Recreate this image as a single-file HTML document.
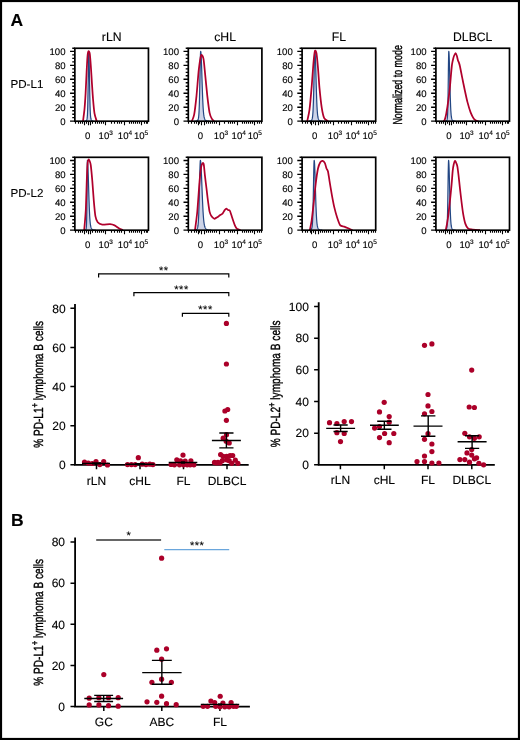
<!DOCTYPE html>
<html><head><meta charset="utf-8"><style>
html,body{margin:0;padding:0;background:#fff;}
body{width:520px;height:740px;overflow:hidden;position:relative;}
svg{position:absolute;left:0;top:0;will-change:transform;}
svg text{font-family:"Liberation Sans", sans-serif;text-rendering:geometricPrecision;stroke:#000;stroke-width:0.12px;}
</style></head><body>
<svg width="520" height="740" viewBox="0 0 520 740">
<rect x="1" y="1" width="518" height="738" fill="#fff" stroke="#000" stroke-width="2.2"/>
<path d="M84.9,121.19 L85,121.19 L85.09,121.18 L85.19,121.18 L85.29,121.17 L85.39,121.16 L85.48,121.14 L85.58,121.12 L85.68,121.1 L85.78,121.07 L85.88,121.03 L85.97,120.98 L86.07,120.92 L86.17,120.84 L86.26,120.75 L86.36,120.64 L86.46,120.5 L86.56,120.34 L86.66,120.14 L86.75,119.9 L86.85,119.6 L86.95,119.23 L87.04,118.75 L87.14,118.13 L87.24,117.31 L87.34,116.21 L87.44,114.74 L87.53,112.79 L87.63,110.23 L87.73,106.97 L87.82,102.89 L87.92,97.98 L88.02,92.25 L88.12,85.86 L88.22,79.03 L88.31,72.12 L88.41,65.55 L88.51,59.78 L88.6,55.27 L88.7,52.39 L88.8,51.4 L88.92,52.39 L89.03,55.27 L89.15,59.78 L89.27,65.55 L89.39,72.12 L89.5,79.03 L89.62,85.86 L89.74,92.25 L89.86,97.98 L89.97,102.89 L90.09,106.97 L90.21,110.23 L90.33,112.79 L90.44,114.74 L90.56,116.21 L90.68,117.31 L90.8,118.13 L90.91,118.75 L91.03,119.23 L91.15,119.6 L91.27,119.9 L91.39,120.14 L91.5,120.34 L91.62,120.5 L91.74,120.64 L91.86,120.75 L91.97,120.84 L92.09,120.92 L92.21,120.98 L92.33,121.03 L92.44,121.07 L92.56,121.1 L92.68,121.12 L92.8,121.14 L92.91,121.16 L93.03,121.17 L93.15,121.18 L93.27,121.18 L93.38,121.19 L93.5,121.19 Z" fill="#cdd4e8" stroke="none"/>
<path d="M84.9,121.19 L85,121.19 L85.09,121.18 L85.19,121.18 L85.29,121.17 L85.39,121.16 L85.48,121.14 L85.58,121.12 L85.68,121.1 L85.78,121.07 L85.88,121.03 L85.97,120.98 L86.07,120.92 L86.17,120.84 L86.26,120.75 L86.36,120.64 L86.46,120.5 L86.56,120.34 L86.66,120.14 L86.75,119.9 L86.85,119.6 L86.95,119.23 L87.04,118.75 L87.14,118.13 L87.24,117.31 L87.34,116.21 L87.44,114.74 L87.53,112.79 L87.63,110.23 L87.73,106.97 L87.82,102.89 L87.92,97.98 L88.02,92.25 L88.12,85.86 L88.22,79.03 L88.31,72.12 L88.41,65.55 L88.51,59.78 L88.6,55.27 L88.7,52.39 L88.8,51.4 L88.92,52.39 L89.03,55.27 L89.15,59.78 L89.27,65.55 L89.39,72.12 L89.5,79.03 L89.62,85.86 L89.74,92.25 L89.86,97.98 L89.97,102.89 L90.09,106.97 L90.21,110.23 L90.33,112.79 L90.44,114.74 L90.56,116.21 L90.68,117.31 L90.8,118.13 L90.91,118.75 L91.03,119.23 L91.15,119.6 L91.27,119.9 L91.39,120.14 L91.5,120.34 L91.62,120.5 L91.74,120.64 L91.86,120.75 L91.97,120.84 L92.09,120.92 L92.21,120.98 L92.33,121.03 L92.44,121.07 L92.56,121.1 L92.68,121.12 L92.8,121.14 L92.91,121.16 L93.03,121.17 L93.15,121.18 L93.27,121.18 L93.38,121.19 L93.5,121.19" fill="none" stroke="#224683" stroke-width="1.2" stroke-linejoin="round"/>
<path d="M83,121.2 C83.17,119.8 84.2,112.44 84.5,109.2 C84.8,105.96 85.35,97.71 85.6,93.4 C85.84,89.09 86.38,76.61 86.6,72.3 C86.82,67.99 87.29,58.95 87.5,56.5 C87.71,54.05 88.13,51.6 88.4,51.3 C88.67,51 89.51,52.06 89.8,53.9 C90.09,55.74 90.66,63.72 90.9,67.1 C91.15,70.48 91.66,79.21 91.9,82.9 C92.15,86.59 92.7,95.14 93,98.7 C93.3,102.26 94.07,110.78 94.5,113.4 C94.93,116.03 96.44,120.29 96.7,121.2" fill="none" stroke="#b0002c" stroke-width="1.75" stroke-linejoin="round"/>
<rect x="74.85" y="48.25" width="73.6" height="72.95" fill="none" stroke="#000" stroke-width="1.7"/>
<path d="M72.25,48.25H74.85M70.05,121.15H74.85M72.25,117.66H74.85M72.25,114.18H74.85M72.25,110.69H74.85M70.05,107.2H74.85M72.25,103.71H74.85M72.25,100.23H74.85M72.25,96.74H74.85M70.05,93.25H74.85M72.25,89.76H74.85M72.25,86.28H74.85M72.25,82.79H74.85M70.05,79.3H74.85M72.25,75.81H74.85M72.25,72.33H74.85M72.25,68.84H74.85M70.05,65.35H74.85M72.25,61.86H74.85M72.25,58.38H74.85M72.25,54.89H74.85M70.05,51.4H74.85" stroke="#000" stroke-width="1.4" fill="none"/>
<text x="65.55" y="124.55" font-size="9.6" text-anchor="end" font-weight="normal" fill="#000">0</text>
<text x="65.55" y="110.6" font-size="9.6" text-anchor="end" font-weight="normal" fill="#000">20</text>
<text x="65.55" y="96.65" font-size="9.6" text-anchor="end" font-weight="normal" fill="#000">40</text>
<text x="65.55" y="82.7" font-size="9.6" text-anchor="end" font-weight="normal" fill="#000">60</text>
<text x="65.55" y="68.75" font-size="9.6" text-anchor="end" font-weight="normal" fill="#000">80</text>
<text x="65.55" y="54.8" font-size="9.6" text-anchor="end" font-weight="normal" fill="#000">100</text>
<path d="M75.5,121.2V123.8M78.5,121.2V123.8M80.5,121.2V123.8M82.5,121.2V123.8M86.5,121.2V123.8M92.5,121.2V123.8M95.5,121.2V123.8M97.5,121.2V123.8M99.5,121.2V123.8M101.5,121.2V123.8M103.5,121.2V123.8M111.5,121.2V123.8M114.5,121.2V123.8M117.5,121.2V123.8M119.5,121.2V123.8M121.5,121.2V123.8M129.5,121.2V123.8M131.5,121.2V123.8M133.5,121.2V123.8M135.5,121.2V123.8M137.5,121.2V123.8M139.5,121.2V123.8M144.5,121.2V123.8M146.5,121.2V123.8M147.5,121.2V123.8M84.5,121.2V125.2M88.5,121.2V125.2M90.5,121.2V125.2M105.5,121.2V125.2M124.5,121.2V125.2M141.5,121.2V125.2" stroke="#000" stroke-width="1.1" fill="none"/>
<text x="87.75" y="139" font-size="9.6" text-anchor="middle" font-weight="normal" fill="#000">0</text>
<text x="98.6" y="139" font-size="9.6" text-anchor="start">10<tspan font-size="6.5" dy="-4.5">3</tspan></text>
<text x="117.8" y="139" font-size="9.6" text-anchor="start">10<tspan font-size="6.5" dy="-4.5">4</tspan></text>
<text x="133.9" y="139" font-size="9.6" text-anchor="start">10<tspan font-size="6.5" dy="-4.5">5</tspan></text>
<path d="M195.4,121.19 L195.53,121.19 L195.66,121.18 L195.8,121.18 L195.93,121.17 L196.06,121.16 L196.19,121.14 L196.33,121.12 L196.46,121.1 L196.59,121.07 L196.72,121.03 L196.86,120.98 L196.99,120.92 L197.12,120.84 L197.25,120.75 L197.39,120.64 L197.52,120.5 L197.65,120.34 L197.78,120.14 L197.92,119.9 L198.05,119.6 L198.18,119.23 L198.31,118.75 L198.45,118.13 L198.58,117.31 L198.71,116.21 L198.84,114.74 L198.98,112.79 L199.11,110.23 L199.24,106.97 L199.38,102.89 L199.51,97.98 L199.64,92.25 L199.77,85.86 L199.9,79.03 L200.04,72.12 L200.17,65.55 L200.3,59.78 L200.44,55.27 L200.57,52.39 L200.7,51.4 L200.92,52.39 L201.13,55.27 L201.35,59.78 L201.57,65.55 L201.79,72.12 L202,79.03 L202.22,85.86 L202.44,92.25 L202.66,97.98 L202.88,102.89 L203.09,106.97 L203.31,110.23 L203.53,112.79 L203.74,114.74 L203.96,116.21 L204.18,117.31 L204.4,118.13 L204.61,118.75 L204.83,119.23 L205.05,119.6 L205.27,119.9 L205.48,120.14 L205.7,120.34 L205.92,120.5 L206.14,120.64 L206.35,120.75 L206.57,120.84 L206.79,120.92 L207.01,120.98 L207.22,121.03 L207.44,121.07 L207.66,121.1 L207.88,121.12 L208.09,121.14 L208.31,121.16 L208.53,121.17 L208.75,121.18 L208.96,121.18 L209.18,121.19 L209.4,121.19 Z" fill="#cdd4e8" stroke="none"/>
<path d="M195.4,121.19 L195.53,121.19 L195.66,121.18 L195.8,121.18 L195.93,121.17 L196.06,121.16 L196.19,121.14 L196.33,121.12 L196.46,121.1 L196.59,121.07 L196.72,121.03 L196.86,120.98 L196.99,120.92 L197.12,120.84 L197.25,120.75 L197.39,120.64 L197.52,120.5 L197.65,120.34 L197.78,120.14 L197.92,119.9 L198.05,119.6 L198.18,119.23 L198.31,118.75 L198.45,118.13 L198.58,117.31 L198.71,116.21 L198.84,114.74 L198.98,112.79 L199.11,110.23 L199.24,106.97 L199.38,102.89 L199.51,97.98 L199.64,92.25 L199.77,85.86 L199.9,79.03 L200.04,72.12 L200.17,65.55 L200.3,59.78 L200.44,55.27 L200.57,52.39 L200.7,51.4 L200.92,52.39 L201.13,55.27 L201.35,59.78 L201.57,65.55 L201.79,72.12 L202,79.03 L202.22,85.86 L202.44,92.25 L202.66,97.98 L202.88,102.89 L203.09,106.97 L203.31,110.23 L203.53,112.79 L203.74,114.74 L203.96,116.21 L204.18,117.31 L204.4,118.13 L204.61,118.75 L204.83,119.23 L205.05,119.6 L205.27,119.9 L205.48,120.14 L205.7,120.34 L205.92,120.5 L206.14,120.64 L206.35,120.75 L206.57,120.84 L206.79,120.92 L207.01,120.98 L207.22,121.03 L207.44,121.07 L207.66,121.1 L207.88,121.12 L208.09,121.14 L208.31,121.16 L208.53,121.17 L208.75,121.18 L208.96,121.18 L209.18,121.19 L209.4,121.19" fill="none" stroke="#224683" stroke-width="1.2" stroke-linejoin="round"/>
<path d="M191.9,121.2 C192.17,120.39 193.66,117.26 194.2,114.3 C194.74,111.34 195.96,101 196.5,95.8 C197.04,90.6 198.25,74.45 198.8,69.7 C199.35,64.95 200.65,56.36 201.2,55.1 C201.75,53.84 203.06,56.84 203.5,58.9 C203.94,60.96 204.56,68.5 205,72.8 C205.44,77.1 206.76,91.13 207.3,95.8 C207.84,100.47 209.06,110.1 209.6,112.8 C210.14,115.5 211.36,117.92 211.9,118.9 C212.44,119.88 213.93,120.93 214.2,121.2" fill="none" stroke="#b0002c" stroke-width="1.75" stroke-linejoin="round"/>
<rect x="188.3" y="48.25" width="73.6" height="72.95" fill="none" stroke="#000" stroke-width="1.7"/>
<path d="M185.7,48.25H188.3M183.5,121.15H188.3M185.7,117.66H188.3M185.7,114.18H188.3M185.7,110.69H188.3M183.5,107.2H188.3M185.7,103.71H188.3M185.7,100.23H188.3M185.7,96.74H188.3M183.5,93.25H188.3M185.7,89.76H188.3M185.7,86.28H188.3M185.7,82.79H188.3M183.5,79.3H188.3M185.7,75.81H188.3M185.7,72.33H188.3M185.7,68.84H188.3M183.5,65.35H188.3M185.7,61.86H188.3M185.7,58.38H188.3M185.7,54.89H188.3M183.5,51.4H188.3" stroke="#000" stroke-width="1.4" fill="none"/>
<text x="179" y="124.55" font-size="9.6" text-anchor="end" font-weight="normal" fill="#000">0</text>
<text x="179" y="110.6" font-size="9.6" text-anchor="end" font-weight="normal" fill="#000">20</text>
<text x="179" y="96.65" font-size="9.6" text-anchor="end" font-weight="normal" fill="#000">40</text>
<text x="179" y="82.7" font-size="9.6" text-anchor="end" font-weight="normal" fill="#000">60</text>
<text x="179" y="68.75" font-size="9.6" text-anchor="end" font-weight="normal" fill="#000">80</text>
<text x="179" y="54.8" font-size="9.6" text-anchor="end" font-weight="normal" fill="#000">100</text>
<path d="M188.5,121.2V123.8M191.5,121.2V123.8M194.5,121.2V123.8M196.5,121.2V123.8M199.5,121.2V123.8M206.5,121.2V123.8M208.5,121.2V123.8M210.5,121.2V123.8M212.5,121.2V123.8M214.5,121.2V123.8M216.5,121.2V123.8M224.5,121.2V123.8M228.5,121.2V123.8M230.5,121.2V123.8M232.5,121.2V123.8M234.5,121.2V123.8M242.5,121.2V123.8M244.5,121.2V123.8M246.5,121.2V123.8M248.5,121.2V123.8M250.5,121.2V123.8M252.5,121.2V123.8M257.5,121.2V123.8M259.5,121.2V123.8M261.5,121.2V123.8M198.5,121.2V125.2M201.5,121.2V125.2M204.5,121.2V125.2M219.5,121.2V125.2M237.5,121.2V125.2M254.5,121.2V125.2" stroke="#000" stroke-width="1.1" fill="none"/>
<text x="200.5" y="139" font-size="9.6" text-anchor="middle" font-weight="normal" fill="#000">0</text>
<text x="213.8" y="139" font-size="9.6" text-anchor="start">10<tspan font-size="6.5" dy="-4.5">3</tspan></text>
<text x="231.6" y="139" font-size="9.6" text-anchor="start">10<tspan font-size="6.5" dy="-4.5">4</tspan></text>
<text x="247.7" y="139" font-size="9.6" text-anchor="start">10<tspan font-size="6.5" dy="-4.5">5</tspan></text>
<path d="M308.8,121.19 L308.95,121.19 L309.1,121.18 L309.26,121.18 L309.41,121.17 L309.56,121.16 L309.71,121.14 L309.87,121.12 L310.02,121.1 L310.17,121.07 L310.32,121.03 L310.48,120.98 L310.63,120.92 L310.78,120.84 L310.93,120.75 L311.09,120.64 L311.24,120.5 L311.39,120.34 L311.54,120.14 L311.7,119.9 L311.85,119.6 L312,119.23 L312.15,118.75 L312.31,118.13 L312.46,117.31 L312.61,116.21 L312.76,114.74 L312.92,112.79 L313.07,110.23 L313.22,106.97 L313.38,102.89 L313.53,97.98 L313.68,92.25 L313.83,85.86 L313.98,79.03 L314.14,72.12 L314.29,65.55 L314.44,59.78 L314.59,55.27 L314.75,52.39 L314.9,51.4 L315.09,52.39 L315.28,55.27 L315.48,59.78 L315.67,65.55 L315.86,72.12 L316.05,79.03 L316.25,85.86 L316.44,92.25 L316.63,97.98 L316.82,102.89 L317.02,106.97 L317.21,110.23 L317.4,112.79 L317.59,114.74 L317.79,116.21 L317.98,117.31 L318.17,118.13 L318.36,118.75 L318.56,119.23 L318.75,119.6 L318.94,119.9 L319.13,120.14 L319.33,120.34 L319.52,120.5 L319.71,120.64 L319.9,120.75 L320.1,120.84 L320.29,120.92 L320.48,120.98 L320.67,121.03 L320.87,121.07 L321.06,121.1 L321.25,121.12 L321.44,121.14 L321.64,121.16 L321.83,121.17 L322.02,121.18 L322.21,121.18 L322.41,121.19 L322.6,121.19 Z" fill="#cdd4e8" stroke="none"/>
<path d="M308.8,121.19 L308.95,121.19 L309.1,121.18 L309.26,121.18 L309.41,121.17 L309.56,121.16 L309.71,121.14 L309.87,121.12 L310.02,121.1 L310.17,121.07 L310.32,121.03 L310.48,120.98 L310.63,120.92 L310.78,120.84 L310.93,120.75 L311.09,120.64 L311.24,120.5 L311.39,120.34 L311.54,120.14 L311.7,119.9 L311.85,119.6 L312,119.23 L312.15,118.75 L312.31,118.13 L312.46,117.31 L312.61,116.21 L312.76,114.74 L312.92,112.79 L313.07,110.23 L313.22,106.97 L313.38,102.89 L313.53,97.98 L313.68,92.25 L313.83,85.86 L313.98,79.03 L314.14,72.12 L314.29,65.55 L314.44,59.78 L314.59,55.27 L314.75,52.39 L314.9,51.4 L315.09,52.39 L315.28,55.27 L315.48,59.78 L315.67,65.55 L315.86,72.12 L316.05,79.03 L316.25,85.86 L316.44,92.25 L316.63,97.98 L316.82,102.89 L317.02,106.97 L317.21,110.23 L317.4,112.79 L317.59,114.74 L317.79,116.21 L317.98,117.31 L318.17,118.13 L318.36,118.75 L318.56,119.23 L318.75,119.6 L318.94,119.9 L319.13,120.14 L319.33,120.34 L319.52,120.5 L319.71,120.64 L319.9,120.75 L320.1,120.84 L320.29,120.92 L320.48,120.98 L320.67,121.03 L320.87,121.07 L321.06,121.1 L321.25,121.12 L321.44,121.14 L321.64,121.16 L321.83,121.17 L322.02,121.18 L322.21,121.18 L322.41,121.19 L322.6,121.19" fill="none" stroke="#224683" stroke-width="1.2" stroke-linejoin="round"/>
<path d="M307.2,121.2 C307.47,119.86 308.96,113.91 309.5,109.7 C310.04,105.49 311.35,90.49 311.8,85.1 C312.25,79.71 313.04,67.49 313.4,63.5 C313.76,59.51 314.54,52.07 314.9,50.9 C315.26,49.73 316.14,51.48 316.5,53.5 C316.86,55.52 317.65,64.15 318,68.2 C318.35,72.25 319.06,83.53 319.5,88.2 C319.94,92.87 321.25,104.7 321.8,108.2 C322.35,111.7 323.48,116.68 324.2,118.2 C324.92,119.72 327.56,120.85 328,121.2" fill="none" stroke="#b0002c" stroke-width="1.75" stroke-linejoin="round"/>
<rect x="302.1" y="48.25" width="73.6" height="72.95" fill="none" stroke="#000" stroke-width="1.7"/>
<path d="M299.5,48.25H302.1M297.3,121.15H302.1M299.5,117.66H302.1M299.5,114.18H302.1M299.5,110.69H302.1M297.3,107.2H302.1M299.5,103.71H302.1M299.5,100.23H302.1M299.5,96.74H302.1M297.3,93.25H302.1M299.5,89.76H302.1M299.5,86.28H302.1M299.5,82.79H302.1M297.3,79.3H302.1M299.5,75.81H302.1M299.5,72.33H302.1M299.5,68.84H302.1M297.3,65.35H302.1M299.5,61.86H302.1M299.5,58.38H302.1M299.5,54.89H302.1M297.3,51.4H302.1" stroke="#000" stroke-width="1.4" fill="none"/>
<text x="292.8" y="124.55" font-size="9.6" text-anchor="end" font-weight="normal" fill="#000">0</text>
<text x="292.8" y="110.6" font-size="9.6" text-anchor="end" font-weight="normal" fill="#000">20</text>
<text x="292.8" y="96.65" font-size="9.6" text-anchor="end" font-weight="normal" fill="#000">40</text>
<text x="292.8" y="82.7" font-size="9.6" text-anchor="end" font-weight="normal" fill="#000">60</text>
<text x="292.8" y="68.75" font-size="9.6" text-anchor="end" font-weight="normal" fill="#000">80</text>
<text x="292.8" y="54.8" font-size="9.6" text-anchor="end" font-weight="normal" fill="#000">100</text>
<path d="M302.5,121.2V123.8M305.5,121.2V123.8M307.5,121.2V123.8M310.5,121.2V123.8M313.5,121.2V123.8M320.5,121.2V123.8M322.5,121.2V123.8M324.5,121.2V123.8M326.5,121.2V123.8M328.5,121.2V123.8M330.5,121.2V123.8M338.5,121.2V123.8M341.5,121.2V123.8M344.5,121.2V123.8M346.5,121.2V123.8M348.5,121.2V123.8M356.5,121.2V123.8M358.5,121.2V123.8M360.5,121.2V123.8M362.5,121.2V123.8M364.5,121.2V123.8M366.5,121.2V123.8M371.5,121.2V123.8M373.5,121.2V123.8M375.5,121.2V123.8M311.5,121.2V125.2M315.5,121.2V125.2M318.5,121.2V125.2M333.5,121.2V125.2M351.5,121.2V125.2M368.5,121.2V125.2" stroke="#000" stroke-width="1.1" fill="none"/>
<text x="314.6" y="139" font-size="9.6" text-anchor="middle" font-weight="normal" fill="#000">0</text>
<text x="327.8" y="139" font-size="9.6" text-anchor="start">10<tspan font-size="6.5" dy="-4.5">3</tspan></text>
<text x="345.6" y="139" font-size="9.6" text-anchor="start">10<tspan font-size="6.5" dy="-4.5">4</tspan></text>
<text x="362.5" y="139" font-size="9.6" text-anchor="start">10<tspan font-size="6.5" dy="-4.5">5</tspan></text>
<path d="M445.3,121.19 L445.39,121.19 L445.48,121.18 L445.56,121.18 L445.65,121.17 L445.74,121.16 L445.82,121.14 L445.91,121.12 L446,121.1 L446.09,121.07 L446.18,121.03 L446.26,120.98 L446.35,120.92 L446.44,120.84 L446.53,120.75 L446.61,120.64 L446.7,120.5 L446.79,120.34 L446.88,120.14 L446.96,119.9 L447.05,119.6 L447.14,119.23 L447.23,118.75 L447.31,118.13 L447.4,117.31 L447.49,116.21 L447.57,114.74 L447.66,112.79 L447.75,110.23 L447.84,106.97 L447.93,102.89 L448.01,97.98 L448.1,92.25 L448.19,85.86 L448.28,79.03 L448.36,72.12 L448.45,65.55 L448.54,59.78 L448.62,55.27 L448.71,52.39 L448.8,51.4 L448.97,52.39 L449.13,55.27 L449.3,59.78 L449.47,65.55 L449.64,72.12 L449.81,79.03 L449.97,85.86 L450.14,92.25 L450.31,97.98 L450.48,102.89 L450.64,106.97 L450.81,110.23 L450.98,112.79 L451.14,114.74 L451.31,116.21 L451.48,117.31 L451.65,118.13 L451.81,118.75 L451.98,119.23 L452.15,119.6 L452.32,119.9 L452.49,120.14 L452.65,120.34 L452.82,120.5 L452.99,120.64 L453.16,120.75 L453.32,120.84 L453.49,120.92 L453.66,120.98 L453.82,121.03 L453.99,121.07 L454.16,121.1 L454.33,121.12 L454.5,121.14 L454.66,121.16 L454.83,121.17 L455,121.18 L455.17,121.18 L455.33,121.19 L455.5,121.19 Z" fill="#cdd4e8" stroke="none"/>
<path d="M445.3,121.19 L445.39,121.19 L445.48,121.18 L445.56,121.18 L445.65,121.17 L445.74,121.16 L445.82,121.14 L445.91,121.12 L446,121.1 L446.09,121.07 L446.18,121.03 L446.26,120.98 L446.35,120.92 L446.44,120.84 L446.53,120.75 L446.61,120.64 L446.7,120.5 L446.79,120.34 L446.88,120.14 L446.96,119.9 L447.05,119.6 L447.14,119.23 L447.23,118.75 L447.31,118.13 L447.4,117.31 L447.49,116.21 L447.57,114.74 L447.66,112.79 L447.75,110.23 L447.84,106.97 L447.93,102.89 L448.01,97.98 L448.1,92.25 L448.19,85.86 L448.28,79.03 L448.36,72.12 L448.45,65.55 L448.54,59.78 L448.62,55.27 L448.71,52.39 L448.8,51.4 L448.97,52.39 L449.13,55.27 L449.3,59.78 L449.47,65.55 L449.64,72.12 L449.81,79.03 L449.97,85.86 L450.14,92.25 L450.31,97.98 L450.48,102.89 L450.64,106.97 L450.81,110.23 L450.98,112.79 L451.14,114.74 L451.31,116.21 L451.48,117.31 L451.65,118.13 L451.81,118.75 L451.98,119.23 L452.15,119.6 L452.32,119.9 L452.49,120.14 L452.65,120.34 L452.82,120.5 L452.99,120.64 L453.16,120.75 L453.32,120.84 L453.49,120.92 L453.66,120.98 L453.82,121.03 L453.99,121.07 L454.16,121.1 L454.33,121.12 L454.5,121.14 L454.66,121.16 L454.83,121.17 L455,121.18 L455.17,121.18 L455.33,121.19 L455.5,121.19" fill="none" stroke="#224683" stroke-width="1.2" stroke-linejoin="round"/>
<path d="M443.5,121.2 C443.64,121.05 444.37,120.8 444.7,119.9 C445.03,119 445.87,115.84 446.3,113.5 C446.73,111.16 447.97,103 448.4,99.8 C448.83,96.6 449.69,89.18 450,86.1 C450.31,83.02 450.86,75.99 451.1,73.4 C451.35,70.81 451.86,65.61 452.1,63.9 C452.35,62.18 452.95,59.68 453.2,58.7 C453.44,57.72 453.92,56.16 454.2,55.5 C454.48,54.84 455.29,52.94 455.6,53 C455.92,53.06 456.63,55.16 456.9,56 C457.17,56.84 457.65,59.4 457.9,60.2 C458.14,61.01 458.75,62.16 459,62.9 C459.25,63.63 459.63,64.78 460,66.5 C460.37,68.22 461.64,74.82 462.2,77.6 C462.76,80.38 464.19,87.47 464.8,90.3 C465.41,93.13 466.72,99.32 467.4,101.9 C468.08,104.48 469.85,110.44 470.6,112.4 C471.35,114.36 473.06,117.7 473.8,118.7 C474.54,119.7 476.35,120.71 476.9,121 C477.45,121.29 478.31,121.18 478.5,121.2" fill="none" stroke="#b0002c" stroke-width="1.75" stroke-linejoin="round"/>
<rect x="435.9" y="48.25" width="73.6" height="72.95" fill="none" stroke="#000" stroke-width="1.7"/>
<path d="M433.3,48.25H435.9M431.1,121.15H435.9M433.3,117.66H435.9M433.3,114.18H435.9M433.3,110.69H435.9M431.1,107.2H435.9M433.3,103.71H435.9M433.3,100.23H435.9M433.3,96.74H435.9M431.1,93.25H435.9M433.3,89.76H435.9M433.3,86.28H435.9M433.3,82.79H435.9M431.1,79.3H435.9M433.3,75.81H435.9M433.3,72.33H435.9M433.3,68.84H435.9M431.1,65.35H435.9M433.3,61.86H435.9M433.3,58.38H435.9M433.3,54.89H435.9M431.1,51.4H435.9" stroke="#000" stroke-width="1.4" fill="none"/>
<text x="426.6" y="124.55" font-size="9.6" text-anchor="end" font-weight="normal" fill="#000">0</text>
<text x="426.6" y="110.6" font-size="9.6" text-anchor="end" font-weight="normal" fill="#000">20</text>
<text x="426.6" y="96.65" font-size="9.6" text-anchor="end" font-weight="normal" fill="#000">40</text>
<text x="426.6" y="82.7" font-size="9.6" text-anchor="end" font-weight="normal" fill="#000">60</text>
<text x="426.6" y="68.75" font-size="9.6" text-anchor="end" font-weight="normal" fill="#000">80</text>
<text x="426.6" y="54.8" font-size="9.6" text-anchor="end" font-weight="normal" fill="#000">100</text>
<path d="M436.5,121.2V123.8M439.5,121.2V123.8M441.5,121.2V123.8M443.5,121.2V123.8M447.5,121.2V123.8M453.5,121.2V123.8M456.5,121.2V123.8M458.5,121.2V123.8M460.5,121.2V123.8M462.5,121.2V123.8M464.5,121.2V123.8M472.5,121.2V123.8M475.5,121.2V123.8M478.5,121.2V123.8M480.5,121.2V123.8M482.5,121.2V123.8M490.5,121.2V123.8M492.5,121.2V123.8M494.5,121.2V123.8M496.5,121.2V123.8M498.5,121.2V123.8M500.5,121.2V123.8M505.5,121.2V123.8M507.5,121.2V123.8M508.5,121.2V123.8M445.5,121.2V125.2M449.5,121.2V125.2M451.5,121.2V125.2M466.5,121.2V125.2M485.5,121.2V125.2M502.5,121.2V125.2" stroke="#000" stroke-width="1.1" fill="none"/>
<text x="449" y="139" font-size="9.6" text-anchor="middle" font-weight="normal" fill="#000">0</text>
<text x="459.4" y="139" font-size="9.6" text-anchor="start">10<tspan font-size="6.5" dy="-4.5">3</tspan></text>
<text x="478.5" y="139" font-size="9.6" text-anchor="start">10<tspan font-size="6.5" dy="-4.5">4</tspan></text>
<text x="495.3" y="139" font-size="9.6" text-anchor="start">10<tspan font-size="6.5" dy="-4.5">5</tspan></text>
<path d="M84.9,230.19 L84.96,230.19 L85.03,230.18 L85.09,230.18 L85.15,230.17 L85.21,230.16 L85.28,230.14 L85.34,230.12 L85.4,230.1 L85.46,230.07 L85.53,230.03 L85.59,229.98 L85.65,229.92 L85.71,229.84 L85.78,229.75 L85.84,229.64 L85.9,229.5 L85.96,229.34 L86.03,229.14 L86.09,228.9 L86.15,228.6 L86.21,228.23 L86.28,227.75 L86.34,227.13 L86.4,226.31 L86.46,225.21 L86.53,223.75 L86.59,221.79 L86.65,219.24 L86.71,215.98 L86.78,211.9 L86.84,206.99 L86.9,201.27 L86.96,194.89 L87.03,188.06 L87.09,181.16 L87.15,174.59 L87.21,168.82 L87.28,164.31 L87.34,161.44 L87.4,160.45 L87.61,161.44 L87.82,164.31 L88.02,168.82 L88.23,174.59 L88.44,181.16 L88.65,188.06 L88.85,194.89 L89.06,201.27 L89.27,206.99 L89.48,211.9 L89.68,215.98 L89.89,219.24 L90.1,221.79 L90.31,223.75 L90.51,225.21 L90.72,226.31 L90.93,227.13 L91.14,227.75 L91.34,228.23 L91.55,228.6 L91.76,228.9 L91.97,229.14 L92.17,229.34 L92.38,229.5 L92.59,229.64 L92.8,229.75 L93,229.84 L93.21,229.92 L93.42,229.98 L93.62,230.03 L93.83,230.07 L94.04,230.1 L94.25,230.12 L94.45,230.14 L94.66,230.16 L94.87,230.17 L95.08,230.18 L95.28,230.18 L95.49,230.19 L95.7,230.19 Z" fill="#cdd4e8" stroke="none"/>
<path d="M84.9,230.19 L84.96,230.19 L85.03,230.18 L85.09,230.18 L85.15,230.17 L85.21,230.16 L85.28,230.14 L85.34,230.12 L85.4,230.1 L85.46,230.07 L85.53,230.03 L85.59,229.98 L85.65,229.92 L85.71,229.84 L85.78,229.75 L85.84,229.64 L85.9,229.5 L85.96,229.34 L86.03,229.14 L86.09,228.9 L86.15,228.6 L86.21,228.23 L86.28,227.75 L86.34,227.13 L86.4,226.31 L86.46,225.21 L86.53,223.75 L86.59,221.79 L86.65,219.24 L86.71,215.98 L86.78,211.9 L86.84,206.99 L86.9,201.27 L86.96,194.89 L87.03,188.06 L87.09,181.16 L87.15,174.59 L87.21,168.82 L87.28,164.31 L87.34,161.44 L87.4,160.45 L87.61,161.44 L87.82,164.31 L88.02,168.82 L88.23,174.59 L88.44,181.16 L88.65,188.06 L88.85,194.89 L89.06,201.27 L89.27,206.99 L89.48,211.9 L89.68,215.98 L89.89,219.24 L90.1,221.79 L90.31,223.75 L90.51,225.21 L90.72,226.31 L90.93,227.13 L91.14,227.75 L91.34,228.23 L91.55,228.6 L91.76,228.9 L91.97,229.14 L92.17,229.34 L92.38,229.5 L92.59,229.64 L92.8,229.75 L93,229.84 L93.21,229.92 L93.42,229.98 L93.62,230.03 L93.83,230.07 L94.04,230.1 L94.25,230.12 L94.45,230.14 L94.66,230.16 L94.87,230.17 L95.08,230.18 L95.28,230.18 L95.49,230.19 L95.7,230.19" fill="none" stroke="#224683" stroke-width="1.2" stroke-linejoin="round"/>
<path d="M84.2,230.2 C84.39,227.84 85.5,215.86 85.8,210 C86.1,204.14 86.59,185.48 86.8,180 C87.01,174.52 87.39,165.39 87.6,163 C87.81,160.61 88.32,159.62 88.6,159.5 C88.88,159.38 89.74,161.31 90,162 C90.26,162.69 90.53,163.21 90.8,165.4 C91.07,167.59 91.95,176.67 92.3,180.8 C92.65,184.93 93.44,196.67 93.8,200.8 C94.16,204.93 94.95,213.69 95.4,216.2 C95.86,218.71 96.9,221.32 97.7,222.3 C98.5,223.28 100.86,224.38 102.3,224.6 C103.73,224.82 108.56,224.11 110,224.2 C111.44,224.29 113.53,224.9 114.6,225.4 C115.67,225.9 118.22,227.94 119.2,228.5 C120.18,229.06 122.56,230 123,230.2" fill="none" stroke="#b0002c" stroke-width="1.75" stroke-linejoin="round"/>
<rect x="74.85" y="157.3" width="73.6" height="72.9" fill="none" stroke="#000" stroke-width="1.7"/>
<path d="M72.25,157.3H74.85M70.05,230.15H74.85M72.25,226.66H74.85M72.25,223.18H74.85M72.25,219.69H74.85M70.05,216.21H74.85M72.25,212.72H74.85M72.25,209.24H74.85M72.25,205.75H74.85M70.05,202.27H74.85M72.25,198.78H74.85M72.25,195.3H74.85M72.25,191.81H74.85M70.05,188.33H74.85M72.25,184.84H74.85M72.25,181.36H74.85M72.25,177.88H74.85M70.05,174.39H74.85M72.25,170.91H74.85M72.25,167.42H74.85M72.25,163.94H74.85M70.05,160.45H74.85" stroke="#000" stroke-width="1.4" fill="none"/>
<text x="65.55" y="233.55" font-size="9.6" text-anchor="end" font-weight="normal" fill="#000">0</text>
<text x="65.55" y="219.61" font-size="9.6" text-anchor="end" font-weight="normal" fill="#000">20</text>
<text x="65.55" y="205.67" font-size="9.6" text-anchor="end" font-weight="normal" fill="#000">40</text>
<text x="65.55" y="191.73" font-size="9.6" text-anchor="end" font-weight="normal" fill="#000">60</text>
<text x="65.55" y="177.79" font-size="9.6" text-anchor="end" font-weight="normal" fill="#000">80</text>
<text x="65.55" y="163.85" font-size="9.6" text-anchor="end" font-weight="normal" fill="#000">100</text>
<path d="M75.5,230.2V232.8M78.5,230.2V232.8M80.5,230.2V232.8M82.5,230.2V232.8M86.5,230.2V232.8M92.5,230.2V232.8M95.5,230.2V232.8M97.5,230.2V232.8M99.5,230.2V232.8M101.5,230.2V232.8M103.5,230.2V232.8M111.5,230.2V232.8M114.5,230.2V232.8M117.5,230.2V232.8M119.5,230.2V232.8M121.5,230.2V232.8M129.5,230.2V232.8M131.5,230.2V232.8M133.5,230.2V232.8M135.5,230.2V232.8M137.5,230.2V232.8M139.5,230.2V232.8M144.5,230.2V232.8M146.5,230.2V232.8M147.5,230.2V232.8M84.5,230.2V234.2M88.5,230.2V234.2M90.5,230.2V234.2M105.5,230.2V234.2M124.5,230.2V234.2M141.5,230.2V234.2" stroke="#000" stroke-width="1.1" fill="none"/>
<text x="87.75" y="248" font-size="9.6" text-anchor="middle" font-weight="normal" fill="#000">0</text>
<text x="98.6" y="248" font-size="9.6" text-anchor="start">10<tspan font-size="6.5" dy="-4.5">3</tspan></text>
<text x="117.8" y="248" font-size="9.6" text-anchor="start">10<tspan font-size="6.5" dy="-4.5">4</tspan></text>
<text x="133.9" y="248" font-size="9.6" text-anchor="start">10<tspan font-size="6.5" dy="-4.5">5</tspan></text>
<path d="M194.1,230.19 L194.26,230.19 L194.41,230.18 L194.57,230.18 L194.73,230.17 L194.89,230.16 L195.04,230.14 L195.2,230.12 L195.36,230.1 L195.52,230.07 L195.68,230.03 L195.83,229.98 L195.99,229.92 L196.15,229.84 L196.31,229.75 L196.46,229.64 L196.62,229.5 L196.78,229.34 L196.94,229.14 L197.09,228.9 L197.25,228.6 L197.41,228.23 L197.56,227.75 L197.72,227.13 L197.88,226.31 L198.04,225.21 L198.19,223.75 L198.35,221.79 L198.51,219.24 L198.67,215.98 L198.82,211.9 L198.98,206.99 L199.14,201.27 L199.3,194.89 L199.46,188.06 L199.61,181.16 L199.77,174.59 L199.93,168.82 L200.09,164.31 L200.24,161.44 L200.4,160.45 L200.67,161.44 L200.94,164.31 L201.2,168.82 L201.47,174.59 L201.74,181.16 L202,188.06 L202.27,194.89 L202.54,201.27 L202.81,206.99 L203.07,211.9 L203.34,215.98 L203.61,219.24 L203.88,221.79 L204.15,223.75 L204.41,225.21 L204.68,226.31 L204.95,227.13 L205.22,227.75 L205.48,228.23 L205.75,228.6 L206.02,228.9 L206.28,229.14 L206.55,229.34 L206.82,229.5 L207.09,229.64 L207.35,229.75 L207.62,229.84 L207.89,229.92 L208.16,229.98 L208.43,230.03 L208.69,230.07 L208.96,230.1 L209.23,230.12 L209.5,230.14 L209.76,230.16 L210.03,230.17 L210.3,230.18 L210.56,230.18 L210.83,230.19 L211.1,230.19 Z" fill="#cdd4e8" stroke="none"/>
<path d="M194.1,230.19 L194.26,230.19 L194.41,230.18 L194.57,230.18 L194.73,230.17 L194.89,230.16 L195.04,230.14 L195.2,230.12 L195.36,230.1 L195.52,230.07 L195.68,230.03 L195.83,229.98 L195.99,229.92 L196.15,229.84 L196.31,229.75 L196.46,229.64 L196.62,229.5 L196.78,229.34 L196.94,229.14 L197.09,228.9 L197.25,228.6 L197.41,228.23 L197.56,227.75 L197.72,227.13 L197.88,226.31 L198.04,225.21 L198.19,223.75 L198.35,221.79 L198.51,219.24 L198.67,215.98 L198.82,211.9 L198.98,206.99 L199.14,201.27 L199.3,194.89 L199.46,188.06 L199.61,181.16 L199.77,174.59 L199.93,168.82 L200.09,164.31 L200.24,161.44 L200.4,160.45 L200.67,161.44 L200.94,164.31 L201.2,168.82 L201.47,174.59 L201.74,181.16 L202,188.06 L202.27,194.89 L202.54,201.27 L202.81,206.99 L203.07,211.9 L203.34,215.98 L203.61,219.24 L203.88,221.79 L204.15,223.75 L204.41,225.21 L204.68,226.31 L204.95,227.13 L205.22,227.75 L205.48,228.23 L205.75,228.6 L206.02,228.9 L206.28,229.14 L206.55,229.34 L206.82,229.5 L207.09,229.64 L207.35,229.75 L207.62,229.84 L207.89,229.92 L208.16,229.98 L208.43,230.03 L208.69,230.07 L208.96,230.1 L209.23,230.12 L209.5,230.14 L209.76,230.16 L210.03,230.17 L210.3,230.18 L210.56,230.18 L210.83,230.19 L211.1,230.19" fill="none" stroke="#224683" stroke-width="1.2" stroke-linejoin="round"/>
<path d="M195,230.2 C195.27,228.02 196.76,217.26 197.3,211.5 C197.84,205.74 199.15,186 199.6,180.8 C200.05,175.6 200.84,168.97 201.2,166.9 C201.56,164.84 202.4,163.37 202.7,163.1 C203,162.83 203.53,163.07 203.8,164.6 C204.07,166.13 204.69,173.41 205,176.2 C205.31,178.99 206.2,185.96 206.5,188.5 C206.8,191.04 207.35,196.02 207.6,198 C207.84,199.98 208.38,203.94 208.6,205.5 C208.82,207.06 209.2,210.2 209.5,211.4 C209.8,212.6 210.64,214.94 211.2,215.8 C211.76,216.66 213.74,218.56 214.3,218.8 C214.86,219.05 215.6,218.1 216,217.9 C216.4,217.7 217.24,217.4 217.7,217.1 C218.16,216.8 219.34,215.71 219.9,215.3 C220.46,214.89 221.94,214.21 222.5,213.6 C223.06,212.99 224.24,210.67 224.7,210.1 C225.16,209.53 226,208.7 226.4,208.7 C226.8,208.7 227.7,209.88 228.1,210.1 C228.5,210.32 229.39,209.94 229.8,210.6 C230.21,211.26 231.19,214.59 231.6,215.8 C232.01,217.01 232.9,219.84 233.3,221 C233.7,222.16 234.59,224.8 235,225.7 C235.41,226.6 236.34,228.24 236.8,228.7 C237.26,229.16 238.47,229.42 238.9,229.6 C239.33,229.78 240.31,230.13 240.5,230.2" fill="none" stroke="#b0002c" stroke-width="1.75" stroke-linejoin="round"/>
<rect x="188.3" y="157.3" width="73.6" height="72.9" fill="none" stroke="#000" stroke-width="1.7"/>
<path d="M185.7,157.3H188.3M183.5,230.15H188.3M185.7,226.66H188.3M185.7,223.18H188.3M185.7,219.69H188.3M183.5,216.21H188.3M185.7,212.72H188.3M185.7,209.24H188.3M185.7,205.75H188.3M183.5,202.27H188.3M185.7,198.78H188.3M185.7,195.3H188.3M185.7,191.81H188.3M183.5,188.33H188.3M185.7,184.84H188.3M185.7,181.36H188.3M185.7,177.88H188.3M183.5,174.39H188.3M185.7,170.91H188.3M185.7,167.42H188.3M185.7,163.94H188.3M183.5,160.45H188.3" stroke="#000" stroke-width="1.4" fill="none"/>
<text x="179" y="233.55" font-size="9.6" text-anchor="end" font-weight="normal" fill="#000">0</text>
<text x="179" y="219.61" font-size="9.6" text-anchor="end" font-weight="normal" fill="#000">20</text>
<text x="179" y="205.67" font-size="9.6" text-anchor="end" font-weight="normal" fill="#000">40</text>
<text x="179" y="191.73" font-size="9.6" text-anchor="end" font-weight="normal" fill="#000">60</text>
<text x="179" y="177.79" font-size="9.6" text-anchor="end" font-weight="normal" fill="#000">80</text>
<text x="179" y="163.85" font-size="9.6" text-anchor="end" font-weight="normal" fill="#000">100</text>
<path d="M188.5,230.2V232.8M191.5,230.2V232.8M194.5,230.2V232.8M196.5,230.2V232.8M199.5,230.2V232.8M206.5,230.2V232.8M208.5,230.2V232.8M210.5,230.2V232.8M212.5,230.2V232.8M214.5,230.2V232.8M216.5,230.2V232.8M224.5,230.2V232.8M228.5,230.2V232.8M230.5,230.2V232.8M232.5,230.2V232.8M234.5,230.2V232.8M242.5,230.2V232.8M244.5,230.2V232.8M246.5,230.2V232.8M248.5,230.2V232.8M250.5,230.2V232.8M252.5,230.2V232.8M257.5,230.2V232.8M259.5,230.2V232.8M261.5,230.2V232.8M198.5,230.2V234.2M201.5,230.2V234.2M204.5,230.2V234.2M219.5,230.2V234.2M237.5,230.2V234.2M254.5,230.2V234.2" stroke="#000" stroke-width="1.1" fill="none"/>
<text x="200.5" y="248" font-size="9.6" text-anchor="middle" font-weight="normal" fill="#000">0</text>
<text x="213.8" y="248" font-size="9.6" text-anchor="start">10<tspan font-size="6.5" dy="-4.5">3</tspan></text>
<text x="231.6" y="248" font-size="9.6" text-anchor="start">10<tspan font-size="6.5" dy="-4.5">4</tspan></text>
<text x="247.7" y="248" font-size="9.6" text-anchor="start">10<tspan font-size="6.5" dy="-4.5">5</tspan></text>
<path d="M309.1,230.19 L309.23,230.19 L309.35,230.18 L309.48,230.18 L309.61,230.17 L309.74,230.16 L309.86,230.14 L309.99,230.12 L310.12,230.1 L310.25,230.07 L310.38,230.03 L310.5,229.98 L310.63,229.92 L310.76,229.84 L310.88,229.75 L311.01,229.64 L311.14,229.5 L311.27,229.34 L311.39,229.14 L311.52,228.9 L311.65,228.6 L311.78,228.23 L311.9,227.75 L312.03,227.13 L312.16,226.31 L312.29,225.21 L312.41,223.75 L312.54,221.79 L312.67,219.24 L312.8,215.98 L312.92,211.9 L313.05,206.99 L313.18,201.27 L313.31,194.89 L313.44,188.06 L313.56,181.16 L313.69,174.59 L313.82,168.82 L313.94,164.31 L314.07,161.44 L314.2,160.45 L314.4,161.44 L314.61,164.31 L314.81,168.82 L315.01,174.59 L315.21,181.16 L315.41,188.06 L315.62,194.89 L315.82,201.27 L316.02,206.99 L316.23,211.9 L316.43,215.98 L316.63,219.24 L316.83,221.79 L317.03,223.75 L317.24,225.21 L317.44,226.31 L317.64,227.13 L317.85,227.75 L318.05,228.23 L318.25,228.6 L318.45,228.9 L318.65,229.14 L318.86,229.34 L319.06,229.5 L319.26,229.64 L319.47,229.75 L319.67,229.84 L319.87,229.92 L320.07,229.98 L320.27,230.03 L320.48,230.07 L320.68,230.1 L320.88,230.12 L321.09,230.14 L321.29,230.16 L321.49,230.17 L321.69,230.18 L321.89,230.18 L322.1,230.19 L322.3,230.19 Z" fill="#cdd4e8" stroke="none"/>
<path d="M309.1,230.19 L309.23,230.19 L309.35,230.18 L309.48,230.18 L309.61,230.17 L309.74,230.16 L309.86,230.14 L309.99,230.12 L310.12,230.1 L310.25,230.07 L310.38,230.03 L310.5,229.98 L310.63,229.92 L310.76,229.84 L310.88,229.75 L311.01,229.64 L311.14,229.5 L311.27,229.34 L311.39,229.14 L311.52,228.9 L311.65,228.6 L311.78,228.23 L311.9,227.75 L312.03,227.13 L312.16,226.31 L312.29,225.21 L312.41,223.75 L312.54,221.79 L312.67,219.24 L312.8,215.98 L312.92,211.9 L313.05,206.99 L313.18,201.27 L313.31,194.89 L313.44,188.06 L313.56,181.16 L313.69,174.59 L313.82,168.82 L313.94,164.31 L314.07,161.44 L314.2,160.45 L314.4,161.44 L314.61,164.31 L314.81,168.82 L315.01,174.59 L315.21,181.16 L315.41,188.06 L315.62,194.89 L315.82,201.27 L316.02,206.99 L316.23,211.9 L316.43,215.98 L316.63,219.24 L316.83,221.79 L317.03,223.75 L317.24,225.21 L317.44,226.31 L317.64,227.13 L317.85,227.75 L318.05,228.23 L318.25,228.6 L318.45,228.9 L318.65,229.14 L318.86,229.34 L319.06,229.5 L319.26,229.64 L319.47,229.75 L319.67,229.84 L319.87,229.92 L320.07,229.98 L320.27,230.03 L320.48,230.07 L320.68,230.1 L320.88,230.12 L321.09,230.14 L321.29,230.16 L321.49,230.17 L321.69,230.18 L321.89,230.18 L322.1,230.19 L322.3,230.19" fill="none" stroke="#224683" stroke-width="1.2" stroke-linejoin="round"/>
<path d="M309.8,230.2 C310.01,229.1 311.16,223.88 311.6,220.8 C312.04,217.72 313.12,208.12 313.6,203.8 C314.08,199.48 315.19,187.92 315.7,183.8 C316.21,179.68 317.46,171.01 318,168.5 C318.54,165.99 319.76,163.2 320.3,162.3 C320.84,161.4 322.06,160.71 322.6,160.8 C323.14,160.89 324.44,162.2 324.9,163.1 C325.35,164 326.14,167.52 326.5,168.5 C326.86,169.48 327.65,170.06 328,171.5 C328.35,172.94 329.06,178.11 329.5,180.8 C329.94,183.5 331.25,191.56 331.8,194.6 C332.35,197.64 333.57,204.21 334.2,206.9 C334.83,209.59 336.49,215.54 337.2,217.7 C337.91,219.86 339.48,224.36 340.3,225.4 C341.12,226.44 343.21,226.24 344.2,226.6 C345.19,226.96 347.82,228.08 348.8,228.5 C349.78,228.92 352.16,230 352.6,230.2" fill="none" stroke="#b0002c" stroke-width="1.75" stroke-linejoin="round"/>
<rect x="302.1" y="157.3" width="73.6" height="72.9" fill="none" stroke="#000" stroke-width="1.7"/>
<path d="M299.5,157.3H302.1M297.3,230.15H302.1M299.5,226.66H302.1M299.5,223.18H302.1M299.5,219.69H302.1M297.3,216.21H302.1M299.5,212.72H302.1M299.5,209.24H302.1M299.5,205.75H302.1M297.3,202.27H302.1M299.5,198.78H302.1M299.5,195.3H302.1M299.5,191.81H302.1M297.3,188.33H302.1M299.5,184.84H302.1M299.5,181.36H302.1M299.5,177.88H302.1M297.3,174.39H302.1M299.5,170.91H302.1M299.5,167.42H302.1M299.5,163.94H302.1M297.3,160.45H302.1" stroke="#000" stroke-width="1.4" fill="none"/>
<text x="292.8" y="233.55" font-size="9.6" text-anchor="end" font-weight="normal" fill="#000">0</text>
<text x="292.8" y="219.61" font-size="9.6" text-anchor="end" font-weight="normal" fill="#000">20</text>
<text x="292.8" y="205.67" font-size="9.6" text-anchor="end" font-weight="normal" fill="#000">40</text>
<text x="292.8" y="191.73" font-size="9.6" text-anchor="end" font-weight="normal" fill="#000">60</text>
<text x="292.8" y="177.79" font-size="9.6" text-anchor="end" font-weight="normal" fill="#000">80</text>
<text x="292.8" y="163.85" font-size="9.6" text-anchor="end" font-weight="normal" fill="#000">100</text>
<path d="M302.5,230.2V232.8M305.5,230.2V232.8M307.5,230.2V232.8M310.5,230.2V232.8M313.5,230.2V232.8M320.5,230.2V232.8M322.5,230.2V232.8M324.5,230.2V232.8M326.5,230.2V232.8M328.5,230.2V232.8M330.5,230.2V232.8M338.5,230.2V232.8M341.5,230.2V232.8M344.5,230.2V232.8M346.5,230.2V232.8M348.5,230.2V232.8M356.5,230.2V232.8M358.5,230.2V232.8M360.5,230.2V232.8M362.5,230.2V232.8M364.5,230.2V232.8M366.5,230.2V232.8M371.5,230.2V232.8M373.5,230.2V232.8M375.5,230.2V232.8M311.5,230.2V234.2M315.5,230.2V234.2M318.5,230.2V234.2M333.5,230.2V234.2M351.5,230.2V234.2M368.5,230.2V234.2" stroke="#000" stroke-width="1.1" fill="none"/>
<text x="314.6" y="248" font-size="9.6" text-anchor="middle" font-weight="normal" fill="#000">0</text>
<text x="327.8" y="248" font-size="9.6" text-anchor="start">10<tspan font-size="6.5" dy="-4.5">3</tspan></text>
<text x="345.6" y="248" font-size="9.6" text-anchor="start">10<tspan font-size="6.5" dy="-4.5">4</tspan></text>
<text x="362.5" y="248" font-size="9.6" text-anchor="start">10<tspan font-size="6.5" dy="-4.5">5</tspan></text>
<path d="M444.5,230.19 L444.6,230.19 L444.7,230.18 L444.81,230.18 L444.91,230.17 L445.01,230.16 L445.12,230.14 L445.22,230.12 L445.32,230.1 L445.42,230.07 L445.52,230.03 L445.63,229.98 L445.73,229.92 L445.83,229.84 L445.94,229.75 L446.04,229.64 L446.14,229.5 L446.24,229.34 L446.35,229.14 L446.45,228.9 L446.55,228.6 L446.65,228.23 L446.75,227.75 L446.86,227.13 L446.96,226.31 L447.06,225.21 L447.17,223.75 L447.27,221.79 L447.37,219.24 L447.47,215.98 L447.58,211.9 L447.68,206.99 L447.78,201.27 L447.88,194.89 L447.99,188.06 L448.09,181.16 L448.19,174.59 L448.29,168.82 L448.4,164.31 L448.5,161.44 L448.6,160.45 L448.77,161.44 L448.95,164.31 L449.12,168.82 L449.29,174.59 L449.46,181.16 L449.63,188.06 L449.81,194.89 L449.98,201.27 L450.15,206.99 L450.33,211.9 L450.5,215.98 L450.67,219.24 L450.84,221.79 L451.01,223.75 L451.19,225.21 L451.36,226.31 L451.53,227.13 L451.71,227.75 L451.88,228.23 L452.05,228.6 L452.22,228.9 L452.39,229.14 L452.57,229.34 L452.74,229.5 L452.91,229.64 L453.09,229.75 L453.26,229.84 L453.43,229.92 L453.6,229.98 L453.77,230.03 L453.95,230.07 L454.12,230.1 L454.29,230.12 L454.47,230.14 L454.64,230.16 L454.81,230.17 L454.98,230.18 L455.15,230.18 L455.33,230.19 L455.5,230.19 Z" fill="#cdd4e8" stroke="none"/>
<path d="M444.5,230.19 L444.6,230.19 L444.7,230.18 L444.81,230.18 L444.91,230.17 L445.01,230.16 L445.12,230.14 L445.22,230.12 L445.32,230.1 L445.42,230.07 L445.52,230.03 L445.63,229.98 L445.73,229.92 L445.83,229.84 L445.94,229.75 L446.04,229.64 L446.14,229.5 L446.24,229.34 L446.35,229.14 L446.45,228.9 L446.55,228.6 L446.65,228.23 L446.75,227.75 L446.86,227.13 L446.96,226.31 L447.06,225.21 L447.17,223.75 L447.27,221.79 L447.37,219.24 L447.47,215.98 L447.58,211.9 L447.68,206.99 L447.78,201.27 L447.88,194.89 L447.99,188.06 L448.09,181.16 L448.19,174.59 L448.29,168.82 L448.4,164.31 L448.5,161.44 L448.6,160.45 L448.77,161.44 L448.95,164.31 L449.12,168.82 L449.29,174.59 L449.46,181.16 L449.63,188.06 L449.81,194.89 L449.98,201.27 L450.15,206.99 L450.33,211.9 L450.5,215.98 L450.67,219.24 L450.84,221.79 L451.01,223.75 L451.19,225.21 L451.36,226.31 L451.53,227.13 L451.71,227.75 L451.88,228.23 L452.05,228.6 L452.22,228.9 L452.39,229.14 L452.57,229.34 L452.74,229.5 L452.91,229.64 L453.09,229.75 L453.26,229.84 L453.43,229.92 L453.6,229.98 L453.77,230.03 L453.95,230.07 L454.12,230.1 L454.29,230.12 L454.47,230.14 L454.64,230.16 L454.81,230.17 L454.98,230.18 L455.15,230.18 L455.33,230.19 L455.5,230.19" fill="none" stroke="#224683" stroke-width="1.2" stroke-linejoin="round"/>
<path d="M445.3,230.2 C445.36,230.16 445.5,231.29 445.8,229.9 C446.1,228.51 447.41,221.74 447.9,218.3 C448.39,214.86 449.57,204.34 450,200.4 C450.43,196.46 451.29,187.95 451.6,184.5 C451.92,181.05 452.45,173.13 452.7,170.8 C452.94,168.47 453.43,165.67 453.7,164.5 C453.97,163.33 454.69,160.93 455,160.8 C455.31,160.67 456.12,162.72 456.4,163.4 C456.68,164.08 457.15,165.25 457.4,166.6 C457.64,167.95 458.2,172.41 458.5,175 C458.8,177.59 459.64,185.59 460,188.8 C460.36,192.01 461.23,199.55 461.6,202.5 C461.97,205.45 462.77,211.64 463.2,214.1 C463.63,216.56 464.74,221.94 465.3,223.6 C465.86,225.26 467.26,227.62 468,228.3 C468.74,228.98 470.43,229.19 471.6,229.4 C472.77,229.61 477.02,230.01 478,230.1 C478.98,230.19 479.77,230.19 480,230.2" fill="none" stroke="#b0002c" stroke-width="1.75" stroke-linejoin="round"/>
<rect x="435.9" y="157.3" width="73.6" height="72.9" fill="none" stroke="#000" stroke-width="1.7"/>
<path d="M433.3,157.3H435.9M431.1,230.15H435.9M433.3,226.66H435.9M433.3,223.18H435.9M433.3,219.69H435.9M431.1,216.21H435.9M433.3,212.72H435.9M433.3,209.24H435.9M433.3,205.75H435.9M431.1,202.27H435.9M433.3,198.78H435.9M433.3,195.3H435.9M433.3,191.81H435.9M431.1,188.33H435.9M433.3,184.84H435.9M433.3,181.36H435.9M433.3,177.88H435.9M431.1,174.39H435.9M433.3,170.91H435.9M433.3,167.42H435.9M433.3,163.94H435.9M431.1,160.45H435.9" stroke="#000" stroke-width="1.4" fill="none"/>
<text x="426.6" y="233.55" font-size="9.6" text-anchor="end" font-weight="normal" fill="#000">0</text>
<text x="426.6" y="219.61" font-size="9.6" text-anchor="end" font-weight="normal" fill="#000">20</text>
<text x="426.6" y="205.67" font-size="9.6" text-anchor="end" font-weight="normal" fill="#000">40</text>
<text x="426.6" y="191.73" font-size="9.6" text-anchor="end" font-weight="normal" fill="#000">60</text>
<text x="426.6" y="177.79" font-size="9.6" text-anchor="end" font-weight="normal" fill="#000">80</text>
<text x="426.6" y="163.85" font-size="9.6" text-anchor="end" font-weight="normal" fill="#000">100</text>
<path d="M436.5,230.2V232.8M439.5,230.2V232.8M441.5,230.2V232.8M443.5,230.2V232.8M447.5,230.2V232.8M453.5,230.2V232.8M456.5,230.2V232.8M458.5,230.2V232.8M460.5,230.2V232.8M462.5,230.2V232.8M464.5,230.2V232.8M472.5,230.2V232.8M475.5,230.2V232.8M478.5,230.2V232.8M480.5,230.2V232.8M482.5,230.2V232.8M490.5,230.2V232.8M492.5,230.2V232.8M494.5,230.2V232.8M496.5,230.2V232.8M498.5,230.2V232.8M500.5,230.2V232.8M505.5,230.2V232.8M507.5,230.2V232.8M508.5,230.2V232.8M445.5,230.2V234.2M449.5,230.2V234.2M451.5,230.2V234.2M466.5,230.2V234.2M485.5,230.2V234.2M502.5,230.2V234.2" stroke="#000" stroke-width="1.1" fill="none"/>
<text x="449" y="248" font-size="9.6" text-anchor="middle" font-weight="normal" fill="#000">0</text>
<text x="459.4" y="248" font-size="9.6" text-anchor="start">10<tspan font-size="6.5" dy="-4.5">3</tspan></text>
<text x="478.5" y="248" font-size="9.6" text-anchor="start">10<tspan font-size="6.5" dy="-4.5">4</tspan></text>
<text x="495.3" y="248" font-size="9.6" text-anchor="start">10<tspan font-size="6.5" dy="-4.5">5</tspan></text>
<text x="111.65" y="40.9" font-size="12.2" text-anchor="middle" font-weight="normal" fill="#000">rLN</text>
<text x="225.1" y="40.9" font-size="12.2" text-anchor="middle" font-weight="normal" fill="#000">cHL</text>
<text x="338.9" y="40.9" font-size="12.2" text-anchor="middle" font-weight="normal" fill="#000">FL</text>
<text x="472.7" y="40.9" font-size="12.2" text-anchor="middle" font-weight="normal" fill="#000">DLBCL</text>
<text x="10.5" y="87.8" font-size="11.6" text-anchor="start" font-weight="normal" fill="#000">PD-L1</text>
<text x="10.5" y="196.8" font-size="11.6" text-anchor="start" font-weight="normal" fill="#000">PD-L2</text>
<text transform="translate(401.9,84.9) rotate(-90) scale(0.683,1)" font-size="13" text-anchor="middle" style="stroke-width:0.4px">Normalized to mode</text>
<text x="10.4" y="25.6" font-size="17.5" text-anchor="start" font-weight="bold" fill="#000">A</text>
<text x="10.9" y="526" font-size="17.5" text-anchor="start" font-weight="bold" fill="#000">B</text>
<path d="M75,304V464.8 H248.7" stroke="#000" stroke-width="1.8" fill="none"/>
<path d="M70.4,464.8H75M70.4,425.68H75M70.4,386.55H75M70.4,347.43H75M70.4,308.3H75M96.5,464.8V469.2M140,464.8V469.2M183.5,464.8V469.2M227,464.8V469.2" stroke="#000" stroke-width="1.5" fill="none"/>
<text x="65.6" y="469" font-size="12" text-anchor="end" font-weight="normal" fill="#000">0</text>
<text x="65.6" y="429.88" font-size="12" text-anchor="end" font-weight="normal" fill="#000">20</text>
<text x="65.6" y="390.75" font-size="12" text-anchor="end" font-weight="normal" fill="#000">40</text>
<text x="65.6" y="351.62" font-size="12" text-anchor="end" font-weight="normal" fill="#000">60</text>
<text x="65.6" y="312.5" font-size="12" text-anchor="end" font-weight="normal" fill="#000">80</text>
<text x="96.5" y="484.6" font-size="12" text-anchor="middle" font-weight="normal" fill="#000">rLN</text>
<text x="140" y="484.6" font-size="12" text-anchor="middle" font-weight="normal" fill="#000">cHL</text>
<text x="183.5" y="484.6" font-size="12" text-anchor="middle" font-weight="normal" fill="#000">FL</text>
<text x="227" y="484.6" font-size="12" text-anchor="middle" font-weight="normal" fill="#000">DLBCL</text>
<text transform="translate(42.8,384.4) rotate(-90) scale(0.76,1)" font-size="13.3" text-anchor="middle" style="stroke-width:0.4px">% PD-L1<tspan font-size="10" dy="-4.8">+</tspan><tspan dy="4.8"> lymphoma B cells</tspan></text>
<path d="M98.6,277.4V273.8H228.8V277.4" stroke="#000" stroke-width="1.2" fill="none"/>
<text x="163.8" y="273.5" font-size="11" text-anchor="middle" font-weight="normal" fill="#000" letter-spacing="0.5">**</text>
<path d="M133.9,296.3V292.7H228.8V296.3" stroke="#000" stroke-width="1.2" fill="none"/>
<text x="181.5" y="292.5" font-size="11" text-anchor="middle" font-weight="normal" fill="#000" letter-spacing="0.5">***</text>
<path d="M182.4,316.7V313.3H228.8V316.7" stroke="#000" stroke-width="1.2" fill="none"/>
<text x="205.5" y="313.1" font-size="11" text-anchor="middle" font-weight="normal" fill="#000" letter-spacing="0.5">***</text>
<circle cx="84.5" cy="462" r="2.6" fill="#ab0029"/><circle cx="88.3" cy="463.1" r="2.6" fill="#ab0029"/><circle cx="92.2" cy="463.5" r="2.6" fill="#ab0029"/><circle cx="96" cy="461.5" r="2.6" fill="#ab0029"/><circle cx="99.8" cy="464.6" r="2.6" fill="#ab0029"/><circle cx="103.7" cy="461.5" r="2.6" fill="#ab0029"/><circle cx="107.5" cy="465" r="2.6" fill="#ab0029"/>
<path d="M82,463.4H110 M92,463H101 M92,463.8H101 M96.5,463V463.8" stroke="#000" stroke-width="1.4" fill="none"/>
<circle cx="127.5" cy="464.6" r="2.6" fill="#ab0029"/><circle cx="131.4" cy="464.6" r="2.6" fill="#ab0029"/><circle cx="135.2" cy="464.6" r="2.6" fill="#ab0029"/><circle cx="138.3" cy="457.7" r="2.6" fill="#ab0029"/><circle cx="142.2" cy="464.2" r="2.6" fill="#ab0029"/><circle cx="146" cy="464.6" r="2.6" fill="#ab0029"/><circle cx="149.8" cy="464.2" r="2.6" fill="#ab0029"/><circle cx="152.9" cy="464.6" r="2.6" fill="#ab0029"/>
<path d="M125.5,464.2H154.5 M135,463.6H145 M135,464.6H145 M140,463.6V464.6" stroke="#000" stroke-width="1.4" fill="none"/>
<circle cx="171.1" cy="464.5" r="2.6" fill="#ab0029"/><circle cx="174.4" cy="464.8" r="2.6" fill="#ab0029"/><circle cx="179.5" cy="464.8" r="2.6" fill="#ab0029"/><circle cx="183.5" cy="464.8" r="2.6" fill="#ab0029"/><circle cx="187.2" cy="464.8" r="2.6" fill="#ab0029"/><circle cx="190.2" cy="464.8" r="2.6" fill="#ab0029"/><circle cx="193.9" cy="464.8" r="2.6" fill="#ab0029"/><circle cx="176.8" cy="459.8" r="2.6" fill="#ab0029"/><circle cx="180.5" cy="460.8" r="2.6" fill="#ab0029"/><circle cx="185.2" cy="461.1" r="2.6" fill="#ab0029"/><circle cx="190.9" cy="460.8" r="2.6" fill="#ab0029"/><circle cx="183" cy="455.1" r="2.6" fill="#ab0029"/>
<path d="M168.7,462.5H197.3 M181,462H185 M181,463H185 M183,462V463" stroke="#000" stroke-width="1.4" fill="none"/>
<circle cx="226.4" cy="323.4" r="2.6" fill="#ab0029"/><circle cx="226.4" cy="364" r="2.6" fill="#ab0029"/><circle cx="224.9" cy="411" r="2.6" fill="#ab0029"/><circle cx="227.7" cy="409.5" r="2.6" fill="#ab0029"/><circle cx="226.4" cy="420.3" r="2.6" fill="#ab0029"/><circle cx="226.5" cy="434.7" r="2.6" fill="#ab0029"/><circle cx="223.2" cy="438.2" r="2.6" fill="#ab0029"/><circle cx="226.2" cy="441.2" r="2.6" fill="#ab0029"/><circle cx="229.2" cy="442.9" r="2.6" fill="#ab0029"/><circle cx="220.6" cy="454.6" r="2.6" fill="#ab0029"/><circle cx="223.2" cy="456.3" r="2.6" fill="#ab0029"/><circle cx="226.6" cy="456.3" r="2.6" fill="#ab0029"/><circle cx="230.1" cy="455.5" r="2.6" fill="#ab0029"/><circle cx="232.7" cy="455.5" r="2.6" fill="#ab0029"/><circle cx="235.3" cy="460.2" r="2.6" fill="#ab0029"/><circle cx="237.9" cy="463.3" r="2.6" fill="#ab0029"/><circle cx="231.8" cy="463.3" r="2.6" fill="#ab0029"/><circle cx="229.2" cy="460.7" r="2.6" fill="#ab0029"/><circle cx="226.6" cy="459.8" r="2.6" fill="#ab0029"/><circle cx="222.3" cy="460.7" r="2.6" fill="#ab0029"/><circle cx="218" cy="462.4" r="2.6" fill="#ab0029"/><circle cx="214.5" cy="462.4" r="2.6" fill="#ab0029"/><circle cx="216.5" cy="463" r="2.6" fill="#ab0029"/><circle cx="220" cy="463" r="2.6" fill="#ab0029"/>
<path d="M211.9,440.5H240.9 M219.3,433H233.5 M219.3,447.9H233.5 M226.4,433V447.9" stroke="#000" stroke-width="1.4" fill="none"/>
<path d="M318.7,302.2V464.8 H494.8" stroke="#000" stroke-width="1.8" fill="none"/>
<path d="M314.1,464.8H318.7M314.1,433.14H318.7M314.1,401.48H318.7M314.1,369.82H318.7M314.1,338.16H318.7M314.1,306.5H318.7M340.4,464.8V469.2M384.3,464.8V469.2M428,464.8V469.2M471.8,464.8V469.2" stroke="#000" stroke-width="1.5" fill="none"/>
<text x="308.9" y="469" font-size="12" text-anchor="end" font-weight="normal" fill="#000">0</text>
<text x="308.9" y="437.34" font-size="12" text-anchor="end" font-weight="normal" fill="#000">20</text>
<text x="308.9" y="405.68" font-size="12" text-anchor="end" font-weight="normal" fill="#000">40</text>
<text x="308.9" y="374.02" font-size="12" text-anchor="end" font-weight="normal" fill="#000">60</text>
<text x="308.9" y="342.36" font-size="12" text-anchor="end" font-weight="normal" fill="#000">80</text>
<text x="308.9" y="310.7" font-size="12" text-anchor="end" font-weight="normal" fill="#000">100</text>
<text x="340.4" y="484" font-size="12" text-anchor="middle" font-weight="normal" fill="#000">rLN</text>
<text x="384.3" y="484" font-size="12" text-anchor="middle" font-weight="normal" fill="#000">cHL</text>
<text x="428" y="484" font-size="12" text-anchor="middle" font-weight="normal" fill="#000">FL</text>
<text x="471.8" y="484" font-size="12" text-anchor="middle" font-weight="normal" fill="#000">DLBCL</text>
<text transform="translate(280.2,383.9) rotate(-90) scale(0.76,1)" font-size="13.3" text-anchor="middle" style="stroke-width:0.4px">% PD-L2<tspan font-size="10" dy="-4.8">+</tspan><tspan dy="4.8"> lymphoma B cells</tspan></text>
<circle cx="329.5" cy="422.7" r="2.6" fill="#ab0029"/><circle cx="336.9" cy="423.5" r="2.6" fill="#ab0029"/><circle cx="344.2" cy="421.6" r="2.6" fill="#ab0029"/><circle cx="351.5" cy="421.6" r="2.6" fill="#ab0029"/><circle cx="336.9" cy="432.7" r="2.6" fill="#ab0029"/><circle cx="344.2" cy="433.5" r="2.6" fill="#ab0029"/><circle cx="340.5" cy="441.6" r="2.6" fill="#ab0029"/>
<path d="M326.2,428.4H355.1 M333.5,425H347.7 M333.5,431.5H347.7 M340.6,425V431.5" stroke="#000" stroke-width="1.4" fill="none"/>
<circle cx="384.2" cy="402.3" r="2.6" fill="#ab0029"/><circle cx="379.5" cy="411.9" r="2.6" fill="#ab0029"/><circle cx="389.2" cy="416.5" r="2.6" fill="#ab0029"/><circle cx="389.2" cy="422.2" r="2.6" fill="#ab0029"/><circle cx="379.5" cy="426.5" r="2.6" fill="#ab0029"/><circle cx="374.6" cy="428.1" r="2.6" fill="#ab0029"/><circle cx="384.6" cy="433.5" r="2.6" fill="#ab0029"/><circle cx="393.8" cy="433.5" r="2.6" fill="#ab0029"/><circle cx="379.5" cy="437.6" r="2.6" fill="#ab0029"/><circle cx="389.2" cy="442.7" r="2.6" fill="#ab0029"/>
<path d="M370,425.3H398.8 M377.2,421.2H391.5 M377.2,429.3H391.5 M384.35,421.2V429.3" stroke="#000" stroke-width="1.4" fill="none"/>
<circle cx="424.5" cy="345.3" r="2.6" fill="#ab0029"/><circle cx="431.9" cy="343.9" r="2.6" fill="#ab0029"/><circle cx="428" cy="394.5" r="2.6" fill="#ab0029"/><circle cx="428" cy="405.9" r="2.6" fill="#ab0029"/><circle cx="424.5" cy="413.8" r="2.6" fill="#ab0029"/><circle cx="431.9" cy="411.5" r="2.6" fill="#ab0029"/><circle cx="428" cy="433.7" r="2.6" fill="#ab0029"/><circle cx="424.5" cy="439.3" r="2.6" fill="#ab0029"/><circle cx="431.9" cy="444" r="2.6" fill="#ab0029"/><circle cx="431.9" cy="451.6" r="2.6" fill="#ab0029"/><circle cx="424.5" cy="456" r="2.6" fill="#ab0029"/><circle cx="417" cy="461.6" r="2.6" fill="#ab0029"/><circle cx="424.5" cy="461.6" r="2.6" fill="#ab0029"/><circle cx="431.9" cy="463" r="2.6" fill="#ab0029"/><circle cx="438.9" cy="463" r="2.6" fill="#ab0029"/>
<path d="M413.5,426.1H442.5 M421,415.9H435.4 M421,436.3H435.4 M428.2,415.9V436.3" stroke="#000" stroke-width="1.4" fill="none"/>
<circle cx="471.7" cy="370.1" r="2.6" fill="#ab0029"/><circle cx="469.2" cy="407" r="2.6" fill="#ab0029"/><circle cx="474.4" cy="407.5" r="2.6" fill="#ab0029"/><circle cx="464.8" cy="433.3" r="2.6" fill="#ab0029"/><circle cx="469.5" cy="436.8" r="2.6" fill="#ab0029"/><circle cx="474.4" cy="438.3" r="2.6" fill="#ab0029"/><circle cx="479.2" cy="436.8" r="2.6" fill="#ab0029"/><circle cx="471.7" cy="449.6" r="2.6" fill="#ab0029"/><circle cx="467" cy="452.9" r="2.6" fill="#ab0029"/><circle cx="471.7" cy="455.1" r="2.6" fill="#ab0029"/><circle cx="476.6" cy="457.8" r="2.6" fill="#ab0029"/><circle cx="474.4" cy="458.8" r="2.6" fill="#ab0029"/><circle cx="459.9" cy="459.6" r="2.6" fill="#ab0029"/><circle cx="464.8" cy="459.6" r="2.6" fill="#ab0029"/><circle cx="469.5" cy="462.2" r="2.6" fill="#ab0029"/><circle cx="478.9" cy="463.3" r="2.6" fill="#ab0029"/><circle cx="483.6" cy="464.8" r="2.6" fill="#ab0029"/>
<path d="M457.6,441.7H486.6 M465,435.8H479.2 M465,448.4H479.2 M472.1,435.8V448.4" stroke="#000" stroke-width="1.4" fill="none"/>
<path d="M75.1,537.4V706.6 H249.9" stroke="#000" stroke-width="1.8" fill="none"/>
<path d="M70.5,706.6H75.1M70.5,665.45H75.1M70.5,624.3H75.1M70.5,583.15H75.1M70.5,542H75.1M103.8,706.6V711M161.8,706.6V711M219.9,706.6V711" stroke="#000" stroke-width="1.5" fill="none"/>
<text x="65" y="710.8" font-size="12" text-anchor="end" font-weight="normal" fill="#000">0</text>
<text x="65" y="669.65" font-size="12" text-anchor="end" font-weight="normal" fill="#000">20</text>
<text x="65" y="628.5" font-size="12" text-anchor="end" font-weight="normal" fill="#000">40</text>
<text x="65" y="587.35" font-size="12" text-anchor="end" font-weight="normal" fill="#000">60</text>
<text x="65" y="546.2" font-size="12" text-anchor="end" font-weight="normal" fill="#000">80</text>
<text x="103.8" y="726.2" font-size="12" text-anchor="middle" font-weight="normal" fill="#000">GC</text>
<text x="161.8" y="726.2" font-size="12" text-anchor="middle" font-weight="normal" fill="#000">ABC</text>
<text x="219.9" y="726.2" font-size="12" text-anchor="middle" font-weight="normal" fill="#000">FL</text>
<text transform="translate(42.9,622.3) rotate(-90) scale(0.76,1)" font-size="13.3" text-anchor="middle" style="stroke-width:0.4px">% PD-L1<tspan font-size="10" dy="-4.8">+</tspan><tspan dy="4.8"> lymphoma B cells</tspan></text>
<path d="M96.2,540H161.1" stroke="#333" stroke-width="1.5"/>
<text x="128.6" y="539.2" font-size="11" text-anchor="middle" font-weight="normal" fill="#000">*</text>
<path d="M164.3,549.6H229.2" stroke="#6aa6dc" stroke-width="1.3"/>
<text x="197.2" y="549.2" font-size="11" text-anchor="middle" font-weight="normal" fill="#000" letter-spacing="0.5">***</text>
<circle cx="103.8" cy="674.6" r="2.6" fill="#ab0029"/><circle cx="89.2" cy="698.2" r="2.6" fill="#ab0029"/><circle cx="98.9" cy="697.7" r="2.6" fill="#ab0029"/><circle cx="108.5" cy="697.7" r="2.6" fill="#ab0029"/><circle cx="118.2" cy="697.7" r="2.6" fill="#ab0029"/><circle cx="89.2" cy="704.9" r="2.6" fill="#ab0029"/><circle cx="98.9" cy="704.9" r="2.6" fill="#ab0029"/><circle cx="108.5" cy="705.7" r="2.6" fill="#ab0029"/><circle cx="118.2" cy="706.2" r="2.6" fill="#ab0029"/>
<path d="M84.3,698.5H123.1 M94.2,695.4H113.1 M94.2,701.5H113.1 M103.65,695.4V701.5" stroke="#000" stroke-width="1.4" fill="none"/>
<circle cx="161.6" cy="558.2" r="2.6" fill="#ab0029"/><circle cx="156.8" cy="650.2" r="2.6" fill="#ab0029"/><circle cx="166.5" cy="648.8" r="2.6" fill="#ab0029"/><circle cx="161.6" cy="659.2" r="2.6" fill="#ab0029"/><circle cx="151.9" cy="682.3" r="2.6" fill="#ab0029"/><circle cx="161.6" cy="679.2" r="2.6" fill="#ab0029"/><circle cx="171.4" cy="682.3" r="2.6" fill="#ab0029"/><circle cx="161.6" cy="696.2" r="2.6" fill="#ab0029"/><circle cx="147" cy="701.8" r="2.6" fill="#ab0029"/><circle cx="156.8" cy="702.3" r="2.6" fill="#ab0029"/><circle cx="166.5" cy="703.7" r="2.6" fill="#ab0029"/><circle cx="176.2" cy="704.7" r="2.6" fill="#ab0029"/>
<path d="M142.2,672.6H181.6 M151.9,660.4H171.8 M151.9,684.3H171.8 M161.85,660.4V684.3" stroke="#000" stroke-width="1.4" fill="none"/>
<circle cx="203.2" cy="706.3" r="2.6" fill="#ab0029"/><circle cx="207.5" cy="706.3" r="2.6" fill="#ab0029"/><circle cx="215.7" cy="706.3" r="2.6" fill="#ab0029"/><circle cx="220" cy="706.8" r="2.6" fill="#ab0029"/><circle cx="224.8" cy="706.8" r="2.6" fill="#ab0029"/><circle cx="229.1" cy="706.8" r="2.6" fill="#ab0029"/><circle cx="233.5" cy="706.3" r="2.6" fill="#ab0029"/><circle cx="236.3" cy="706.3" r="2.6" fill="#ab0029"/><circle cx="210.9" cy="701.1" r="2.6" fill="#ab0029"/><circle cx="214.7" cy="702.5" r="2.6" fill="#ab0029"/><circle cx="222.9" cy="703" r="2.6" fill="#ab0029"/><circle cx="231.1" cy="702.5" r="2.6" fill="#ab0029"/><circle cx="220.2" cy="696.25" r="2.6" fill="#ab0029"/>
<path d="M200.8,704.4H239.2 M218,704H222 M218,704.8H222 M220,704V704.8" stroke="#000" stroke-width="1.4" fill="none"/>
</svg>
</body></html>
